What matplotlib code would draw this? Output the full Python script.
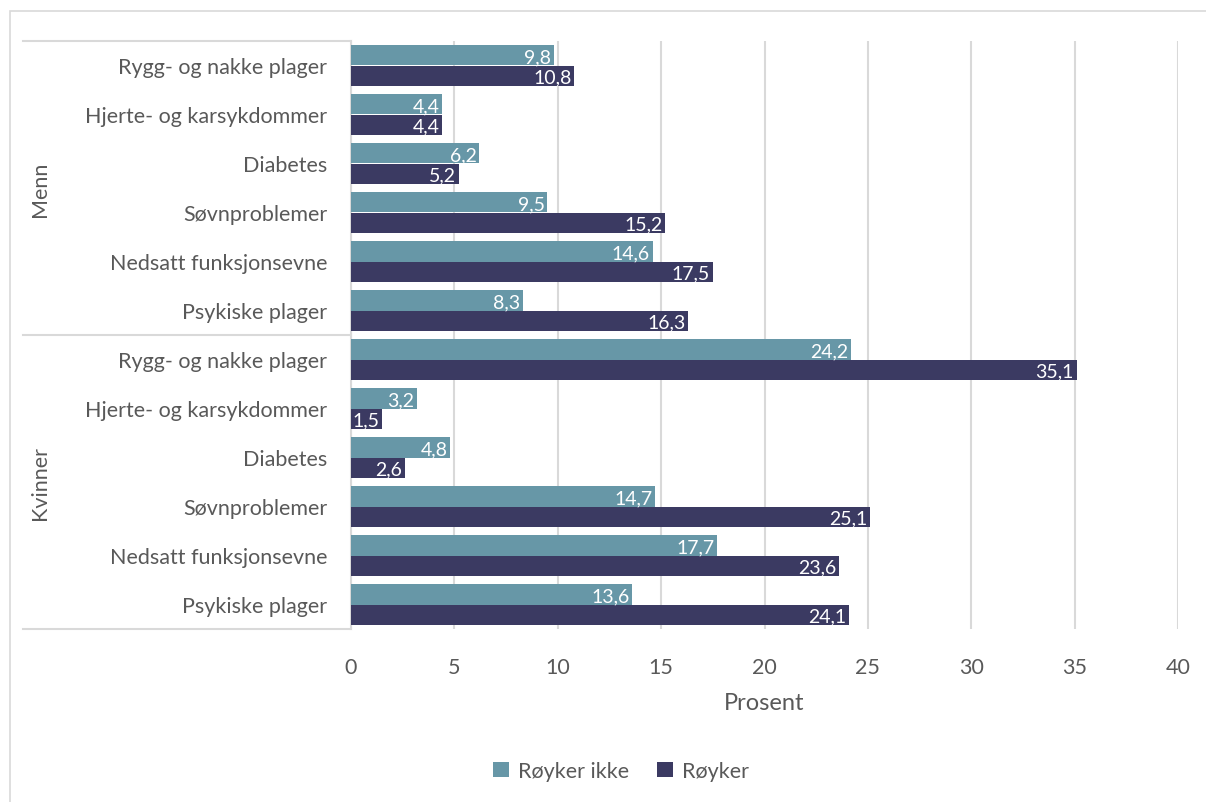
import matplotlib.pyplot as plt
from matplotlib.lines import Line2D
from matplotlib.patches import Rectangle
import numpy as np

plt.rcParams['font.family'] = ['Lato', 'DejaVu Sans']

# categories top to bottom
groups = ['Menn', 'Kvinner']
categories = ['Rygg- og nakke plager', 'Hjerte- og karsykdommer', 'Diabetes',
              'Søvnproblemer', 'Nedsatt funksjonsevne', 'Psykiske plager']
ikke_menn = [9.8, 4.4, 6.2, 9.5, 14.6, 8.3]
royker_menn = [10.8, 4.4, 5.2, 15.2, 17.5, 16.3]
ikke_kvinner = [24.2, 3.2, 4.8, 14.7, 17.7, 13.6]
royker_kvinner = [35.1, 1.5, 2.6, 25.1, 23.6, 24.1]
xticks = [0, 5, 10, 15, 20, 25, 30, 35, 40]

col_ikke = '#6797A7'
col_royk = '#3B3A62'
txt = '#595959'
grid = '#D9D9D9'
fs = 15.5

labels = categories + categories
ikke = ikke_menn + ikke_kvinner
royk = royker_menn + royker_kvinner
pos = np.arange(len(labels))
h = 0.41

fig = plt.figure(figsize=(12.06, 8.03), dpi=100)
ax = fig.add_axes([351/1206, 1 - 630/803, 827/1206, 588/803])

b1 = ax.barh(pos - h/2, ikke, height=h, color=col_ikke, label='Røyker ikke', zorder=3)
b2 = ax.barh(pos + h/2, royk, height=h, color=col_royk, label='Røyker', zorder=3)

# white value labels inside bar ends
for bars, vals in [(b1, ikke), (b2, royk)]:
    for bar, v in zip(bars, vals):
        ax.annotate(f'{v:.1f}'.replace('.', ','),
                    (v, bar.get_y() + bar.get_height()/2),
                    xytext=(-2, -1), textcoords='offset points',
                    ha='right', va='center', color='white', fontsize=14, zorder=4)

ax.set_xlim(0, 40)
ax.set_ylim(len(labels) - 0.5, -0.5)
ax.set_xticks(xticks)
ax.set_xticklabels([str(t) for t in xticks], fontsize=fs, color=txt)
ax.set_yticks(pos)
ax.set_yticklabels(labels, fontsize=fs, color=txt)
ax.tick_params(axis='y', length=0, pad=17)
ax.tick_params(axis='x', length=0, pad=20)
ax.xaxis.grid(True, color=grid, linewidth=1.5, zorder=0)
for s in ['top', 'right', 'bottom']:
    ax.spines[s].set_visible(False)
ax.spines['left'].set_color(grid)
ax.spines['left'].set_linewidth(1.5)

ax.set_xlabel('Prosent', fontsize=17, color=txt, labelpad=11)

# group separators and labels
xl = (23 - 351) / 827
for yv in [-0.5, 5.5, 11.5]:
    ax.add_line(Line2D([xl, 0], [yv, yv], transform=ax.get_yaxis_transform(),
                       color=grid, linewidth=1.5, clip_on=False))
gx = (40 - 351) / 827
ax.text(gx, 2.5, groups[0], transform=ax.get_yaxis_transform(), rotation=90,
        ha='center', va='center', fontsize=fs, color=txt)
ax.text(gx, 8.5, groups[1], transform=ax.get_yaxis_transform(), rotation=90,
        ha='center', va='center', fontsize=fs, color=txt)

fig.legend(loc='center', bbox_to_anchor=(621/1206, 1 - 772/803), ncol=2,
           frameon=False, fontsize=fs, handlelength=0.75, handleheight=0.75,
           columnspacing=1.3, handletextpad=0.4, labelcolor=txt)

fig.patches.append(Rectangle((10/1206, -0.05), 1.2, 1 - 12/803 + 0.05,
                             transform=fig.transFigure, fill=False,
                             edgecolor=grid, linewidth=1.2))

fig.savefig('out.png', dpi=100)
